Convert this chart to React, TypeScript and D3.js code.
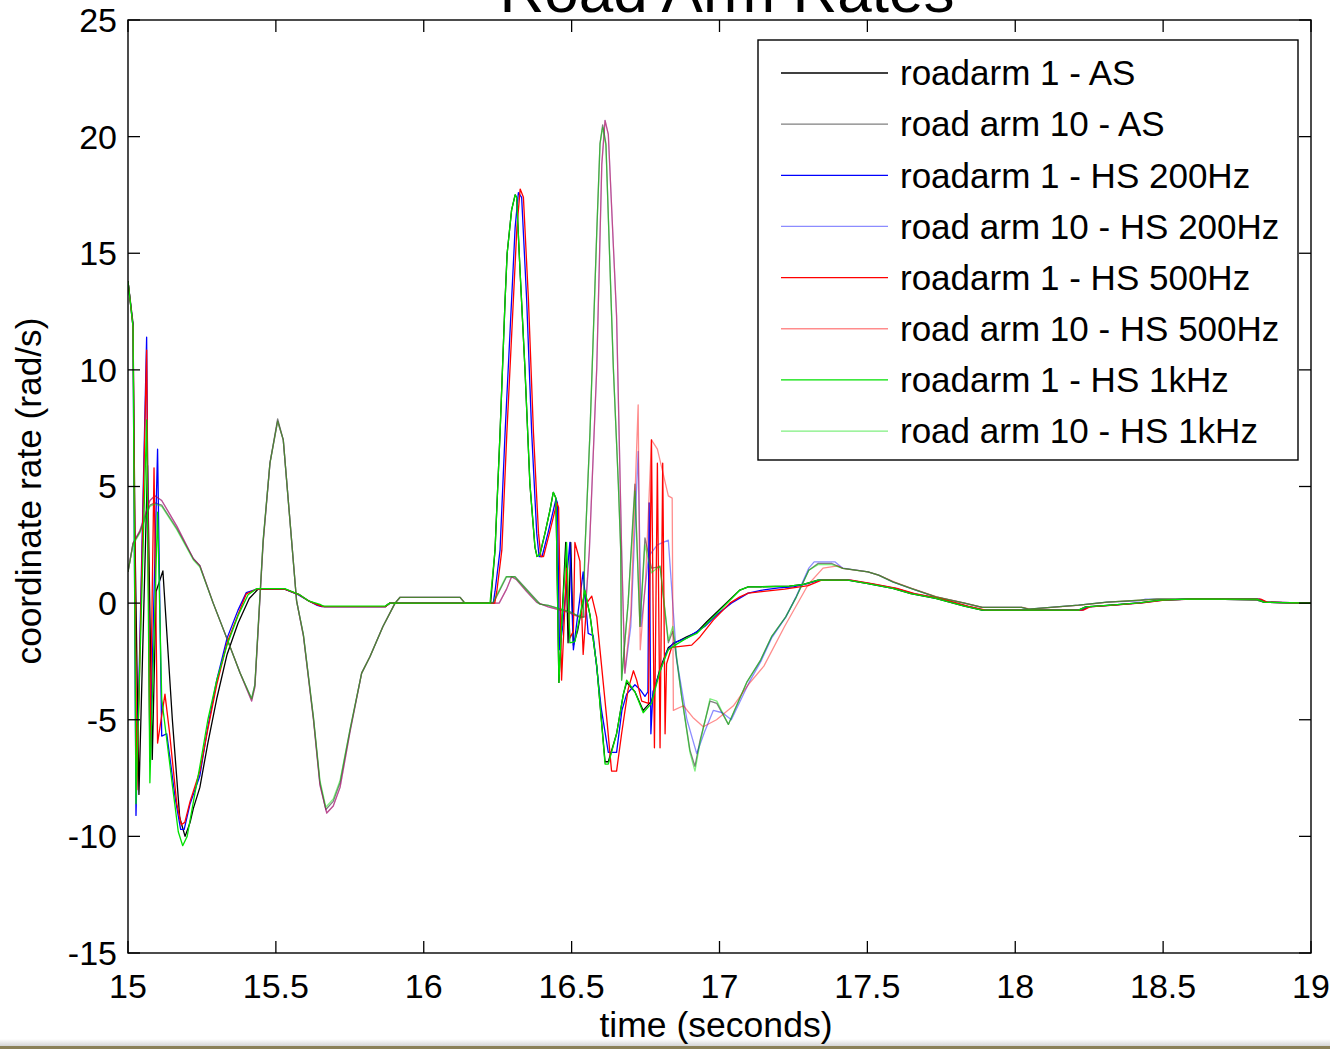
import React from 'react';
import * as d3 from 'd3';

type P = [number, number];

const xTicks = [15, 15.5, 16, 16.5, 17, 17.5, 18, 18.5, 19];
const yTicks = [-15, -10, -5, 0, 5, 10, 15, 20, 25];

const seriesNames = [
  'roadarm 1 - AS',
  'road arm 10 - AS',
  'roadarm 1 - HS 200Hz',
  'road arm 10 - HS 200Hz',
  'roadarm 1 - HS 500Hz',
  'road arm 10 - HS 500Hz',
  'roadarm 1 - HS 1kHz',
  'road arm 10 - HS 1kHz',
];

const roadarm1AS: P[] = [
  [15.000,13.8],[15.017,12.0],[15.024,2.5],[15.037,-8.2],[15.066,5.9],[15.082,-6.7],[15.095,0.5],[15.118,1.38],[15.150,-5.0],[15.175,-9.2],[15.193,-10.0],[15.210,-9.4],[15.221,-8.8],[15.243,-7.9],[15.270,-6.0],[15.300,-4.1],[15.335,-2.2],[15.372,-0.86],[15.410,0.2],[15.440,0.6],[15.530,0.6],[15.580,0.36],[15.610,0.1],[15.649,-0.1],[15.665,-0.15],[15.870,-0.15],[15.885,0.0],[16.226,0.0],[16.241,2.27],[16.258,7.3],[16.275,13.0],[16.282,15.0],[16.297,16.85],[16.309,17.5],[16.314,17.4],[16.325,14.4],[16.342,10.1],[16.359,5.1],[16.376,2.4],[16.383,2.0],[16.393,2.1],[16.410,3.0],[16.427,4.0],[16.438,4.75],[16.447,4.5],[16.457,-3.4],[16.466,-1.0],[16.480,2.6],[16.488,-1.7],[16.497,2.6],[16.506,-1.8],[16.520,-1.2],[16.545,0.5],[16.562,-0.5],[16.585,-2.7],[16.613,-6.8],[16.624,-6.8],[16.652,-5.6],[16.675,-3.9],[16.686,-3.4],[16.714,-3.8],[16.742,-4.6],[16.770,-4.2],[16.799,-2.8],[16.827,-1.9],[16.850,-1.7],[16.889,-1.45],[16.923,-1.25],[16.957,-0.8],[17.002,-0.25],[17.047,0.3],[17.069,0.56],[17.097,0.7],[17.139,0.7],[17.236,0.73],[17.284,0.8],[17.333,0.99],[17.434,0.99],[17.502,0.84],[17.586,0.63],[17.647,0.41],[17.731,0.2],[17.828,-0.13],[17.888,-0.3],[18.214,-0.3],[18.238,-0.16],[18.323,-0.09],[18.419,0.01],[18.492,0.13],[18.588,0.17],[18.817,0.17],[18.841,0.04],[19.000,0.0],
];

const roadarm10AS: P[] = [
  [15.000,1.34],[15.017,2.56],[15.040,3.05],[15.074,4.2],[15.091,4.3],[15.114,4.2],[15.165,3.2],[15.221,1.9],[15.243,1.6],[15.288,0.0],[15.334,-1.5],[15.379,-3.0],[15.418,-4.1],[15.429,-3.5],[15.457,2.7],[15.480,6.0],[15.506,7.9],[15.525,7.0],[15.570,0.1],[15.593,-1.35],[15.627,-4.9],[15.649,-7.7],[15.669,-8.85],[15.694,-8.5],[15.717,-7.7],[15.751,-5.4],[15.790,-3.0],[15.818,-2.3],[15.862,-1.0],[15.903,0.0],[15.920,0.25],[16.123,0.25],[16.139,0.0],[16.235,0.0],[16.280,1.13],[16.309,1.13],[16.393,-0.04],[16.421,-0.1],[16.494,-0.37],[16.528,-0.59],[16.539,-0.6],[16.545,2.27],[16.562,7.3],[16.585,15.9],[16.596,19.7],[16.605,20.5],[16.616,19.7],[16.641,10.1],[16.658,5.1],[16.666,2.27],[16.669,-3.3],[16.691,0.0],[16.714,5.1],[16.731,-1.0],[16.748,2.8],[16.770,1.5],[16.799,1.56],[16.827,-1.7],[16.842,-1.2],[16.872,-4.0],[16.900,-6.3],[16.917,-7.0],[16.934,-5.9],[16.968,-4.2],[16.991,-4.3],[17.030,-5.2],[17.092,-3.4],[17.139,-2.44],[17.176,-1.44],[17.224,-0.59],[17.260,0.27],[17.302,1.41],[17.333,1.7],[17.380,1.7],[17.417,1.49],[17.502,1.34],[17.538,1.2],[17.586,0.91],[17.647,0.63],[17.731,0.27],[17.828,0.0],[17.888,-0.18],[18.021,-0.18],[18.045,-0.26],[18.214,-0.09],[18.310,0.04],[18.479,0.17],[18.672,0.17],[18.817,0.13],[18.841,0.04],[19.000,0.0],
];

const roadarm1HS200: P[] = [
  [15.000,13.8],[15.017,11.85],[15.027,-9.1],[15.063,11.4],[15.074,-6.8],[15.100,6.6],[15.114,-5.7],[15.131,-5.6],[15.160,-8.4],[15.178,-9.7],[15.190,-9.7],[15.210,-8.6],[15.243,-7.4],[15.270,-5.3],[15.300,-3.3],[15.335,-1.5],[15.372,-0.3],[15.400,0.45],[15.435,0.6],[15.530,0.6],[15.575,0.36],[15.610,0.1],[15.640,-0.1],[15.655,-0.15],[15.870,-0.15],[15.885,0.0],[16.235,0.0],[16.241,0.5],[16.258,2.27],[16.275,7.3],[16.292,11.7],[16.309,16.1],[16.320,17.6],[16.331,17.4],[16.348,13.0],[16.365,7.3],[16.382,3.0],[16.390,2.0],[16.400,2.0],[16.420,3.0],[16.447,4.46],[16.452,4.3],[16.459,-2.0],[16.470,-1.0],[16.483,1.0],[16.494,2.6],[16.506,-2.0],[16.539,1.34],[16.556,-1.3],[16.573,-1.4],[16.600,-4.5],[16.624,-6.4],[16.652,-6.4],[16.670,-4.6],[16.686,-3.9],[16.714,-3.5],[16.731,-3.7],[16.748,-4.0],[16.758,-3.8],[16.762,4.3],[16.768,-5.6],[16.775,-3.8],[16.800,-2.9],[16.821,-2.1],[16.844,-1.7],[16.889,-1.5],[16.950,-1.0],[16.991,-0.5],[17.040,0.0],[17.097,0.43],[17.140,0.55],[17.200,0.65],[17.250,0.7],[17.300,0.85],[17.340,0.99],[17.440,0.99],[17.510,0.84],[17.595,0.63],[17.655,0.41],[17.740,0.2],[17.835,-0.13],[17.895,-0.3],[18.225,-0.3],[18.248,-0.16],[18.330,-0.09],[18.425,0.01],[18.500,0.13],[18.595,0.17],[18.825,0.17],[18.848,0.04],[19.000,0.0],
];

const roadarm10HS200: P[] = [
  [15.000,1.34],[15.017,2.56],[15.040,3.1],[15.074,4.4],[15.091,4.6],[15.114,4.4],[15.165,3.3],[15.221,1.9],[15.243,1.6],[15.288,0.0],[15.334,-1.5],[15.379,-3.0],[15.418,-4.2],[15.429,-3.6],[15.457,2.6],[15.480,6.0],[15.506,7.8],[15.525,7.0],[15.570,0.1],[15.593,-1.4],[15.627,-5.0],[15.649,-7.8],[15.672,-9.0],[15.694,-8.7],[15.717,-7.9],[15.751,-5.5],[15.790,-3.0],[15.818,-2.3],[15.862,-1.0],[15.903,0.0],[15.920,0.25],[16.123,0.25],[16.139,0.0],[16.255,0.0],[16.280,0.6],[16.297,1.13],[16.314,1.0],[16.348,0.5],[16.382,0.03],[16.421,-0.16],[16.483,-0.37],[16.524,-0.59],[16.545,-0.59],[16.560,2.27],[16.585,10.1],[16.602,18.8],[16.613,20.7],[16.624,20.1],[16.652,12.3],[16.669,2.3],[16.680,-3.0],[16.700,-1.0],[16.725,6.5],[16.735,-1.0],[16.760,2.0],[16.790,2.5],[16.827,2.7],[16.855,-2.4],[16.890,-5.0],[16.923,-6.45],[16.950,-5.5],[16.979,-4.6],[17.010,-4.7],[17.040,-5.0],[17.100,-3.4],[17.140,-2.5],[17.176,-1.5],[17.224,-0.6],[17.260,0.3],[17.302,1.5],[17.320,1.77],[17.390,1.77],[17.417,1.5],[17.502,1.34],[17.538,1.2],[17.586,0.91],[17.647,0.63],[17.731,0.27],[17.828,0.0],[17.888,-0.18],[18.021,-0.18],[18.045,-0.26],[18.214,-0.09],[18.310,0.04],[18.420,0.1],[18.440,0.17],[18.672,0.17],[18.817,0.13],[18.841,0.04],[19.000,0.0],
];

const roadarm1HS500: P[] = [
  [15.000,13.8],[15.017,11.85],[15.030,-8.0],[15.063,10.85],[15.074,-6.5],[15.088,5.8],[15.100,-6.0],[15.125,-3.9],[15.140,-5.5],[15.165,-8.6],[15.180,-9.5],[15.192,-9.4],[15.210,-8.5],[15.243,-7.2],[15.270,-5.4],[15.300,-3.5],[15.335,-1.7],[15.372,-0.5],[15.400,0.4],[15.435,0.6],[15.530,0.6],[15.578,0.36],[15.610,0.1],[15.645,-0.1],[15.660,-0.15],[15.870,-0.15],[15.885,0.0],[16.240,0.0],[16.247,0.5],[16.264,2.27],[16.281,7.3],[16.298,11.7],[16.315,16.1],[16.326,17.75],[16.337,17.4],[16.354,13.0],[16.371,7.3],[16.388,3.0],[16.396,2.0],[16.405,2.0],[16.425,3.0],[16.450,4.3],[16.456,4.1],[16.466,-3.3],[16.483,1.5],[16.494,-1.5],[16.506,-1.2],[16.511,2.6],[16.528,1.8],[16.539,-2.2],[16.551,0.0],[16.568,0.3],[16.585,-0.6],[16.620,-5.1],[16.635,-7.2],[16.652,-7.2],[16.669,-5.6],[16.691,-3.7],[16.709,-2.9],[16.720,-3.3],[16.737,-4.2],[16.760,-4.3],[16.770,7.0],[16.780,-6.2],[16.790,6.0],[16.799,-6.2],[16.808,6.0],[16.816,-5.6],[16.821,-2.6],[16.838,-1.9],[16.906,-1.8],[16.934,-1.45],[16.979,-0.73],[17.035,0.0],[17.069,0.27],[17.097,0.43],[17.150,0.5],[17.220,0.6],[17.300,0.75],[17.345,0.99],[17.445,0.99],[17.515,0.84],[17.600,0.63],[17.660,0.41],[17.745,0.2],[17.840,-0.13],[17.900,-0.3],[18.230,-0.3],[18.252,-0.16],[18.335,-0.09],[18.430,0.01],[18.505,0.13],[18.600,0.17],[18.830,0.17],[18.852,0.04],[19.000,0.0],
];

const roadarm10HS500: P[] = [
  [15.000,1.34],[15.017,2.56],[15.040,3.1],[15.074,4.4],[15.091,4.6],[15.114,4.4],[15.165,3.3],[15.221,1.9],[15.243,1.6],[15.288,0.0],[15.334,-1.5],[15.379,-3.0],[15.418,-4.2],[15.429,-3.6],[15.457,2.6],[15.480,6.0],[15.506,7.8],[15.525,7.0],[15.570,0.1],[15.593,-1.4],[15.627,-5.0],[15.649,-7.8],[15.672,-9.0],[15.694,-8.7],[15.717,-7.9],[15.751,-5.5],[15.790,-3.0],[15.818,-2.3],[15.862,-1.0],[15.903,0.0],[15.920,0.25],[16.123,0.25],[16.139,0.0],[16.255,0.0],[16.280,0.6],[16.297,1.13],[16.314,1.0],[16.348,0.5],[16.382,0.03],[16.421,-0.16],[16.483,-0.37],[16.524,-0.59],[16.545,-0.59],[16.560,2.27],[16.585,10.1],[16.602,18.8],[16.613,20.7],[16.624,20.1],[16.652,12.3],[16.669,2.3],[16.680,-3.0],[16.700,-0.5],[16.725,8.5],[16.732,-2.0],[16.750,1.0],[16.770,7.0],[16.790,6.6],[16.827,4.6],[16.840,4.5],[16.844,-4.6],[16.878,-4.4],[16.910,-4.9],[16.945,-5.3],[16.990,-5.0],[17.047,-4.4],[17.097,-3.5],[17.150,-2.7],[17.220,-1.0],[17.300,0.8],[17.350,1.5],[17.400,1.6],[17.417,1.49],[17.502,1.34],[17.538,1.2],[17.590,0.91],[17.650,0.63],[17.735,0.27],[17.830,0.0],[17.890,-0.18],[18.025,-0.18],[18.050,-0.26],[18.220,-0.09],[18.315,0.04],[18.485,0.17],[18.675,0.17],[18.820,0.13],[18.845,0.04],[19.000,0.0],
];

const roadarm1HS1k: P[] = [
  [15.000,13.8],[15.017,11.85],[15.027,-8.6],[15.063,7.85],[15.074,-7.7],[15.100,3.9],[15.114,-4.1],[15.150,-7.8],[15.170,-9.8],[15.185,-10.4],[15.200,-10.0],[15.220,-8.6],[15.243,-7.0],[15.270,-5.0],[15.300,-3.3],[15.335,-1.8],[15.372,-0.54],[15.406,0.36],[15.435,0.62],[15.530,0.62],[15.580,0.36],[15.610,0.1],[15.649,-0.05],[15.660,-0.13],[15.870,-0.13],[15.885,0.0],[16.224,0.0],[16.241,2.27],[16.258,7.3],[16.275,13.0],[16.282,15.0],[16.297,16.85],[16.309,17.5],[16.314,17.4],[16.325,14.4],[16.342,10.1],[16.359,5.1],[16.376,2.4],[16.383,2.0],[16.393,2.1],[16.410,3.0],[16.427,4.0],[16.438,4.75],[16.447,4.5],[16.457,-3.4],[16.466,-1.0],[16.483,2.6],[16.494,-1.7],[16.511,-1.65],[16.545,0.56],[16.562,-0.5],[16.585,-2.7],[16.613,-6.9],[16.624,-6.9],[16.652,-5.6],[16.675,-3.9],[16.686,-3.3],[16.714,-3.8],[16.742,-4.7],[16.770,-4.3],[16.799,-2.9],[16.827,-2.0],[16.850,-1.8],[16.889,-1.5],[16.923,-1.3],[16.957,-0.87],[17.002,-0.3],[17.047,0.27],[17.069,0.56],[17.097,0.7],[17.139,0.7],[17.236,0.73],[17.284,0.8],[17.333,0.99],[17.434,0.99],[17.502,0.84],[17.586,0.63],[17.647,0.41],[17.731,0.2],[17.828,-0.13],[17.888,-0.3],[18.214,-0.3],[18.238,-0.16],[18.323,-0.09],[18.419,0.01],[18.492,0.13],[18.588,0.17],[18.817,0.17],[18.841,0.04],[19.000,0.0],
];

const roadarm10HS1k: P[] = [
  [15.000,1.34],[15.017,2.5],[15.040,3.0],[15.074,4.15],[15.091,4.25],[15.114,4.15],[15.165,3.15],[15.221,1.85],[15.243,1.55],[15.288,0.0],[15.334,-1.5],[15.379,-3.0],[15.418,-4.1],[15.429,-3.5],[15.457,2.7],[15.480,6.0],[15.506,7.8],[15.525,7.0],[15.570,0.1],[15.593,-1.35],[15.627,-4.9],[15.649,-7.6],[15.669,-8.75],[15.694,-8.4],[15.717,-7.6],[15.751,-5.4],[15.790,-3.0],[15.818,-2.3],[15.862,-1.0],[15.903,0.0],[15.920,0.25],[16.123,0.25],[16.139,0.0],[16.233,0.0],[16.278,1.13],[16.307,1.13],[16.391,-0.04],[16.421,-0.1],[16.494,-0.37],[16.528,-0.59],[16.539,-0.6],[16.545,2.27],[16.562,7.3],[16.585,15.9],[16.596,19.7],[16.605,20.4],[16.616,19.6],[16.641,10.1],[16.658,5.1],[16.666,2.27],[16.669,-3.3],[16.691,0.0],[16.714,4.8],[16.731,-1.0],[16.748,2.5],[16.770,1.3],[16.799,1.6],[16.827,-1.6],[16.842,-1.0],[16.872,-4.0],[16.900,-6.4],[16.917,-7.2],[16.934,-6.0],[16.968,-4.1],[16.991,-4.2],[17.030,-5.2],[17.092,-3.4],[17.139,-2.44],[17.176,-1.44],[17.224,-0.59],[17.260,0.27],[17.302,1.41],[17.333,1.65],[17.380,1.65],[17.417,1.49],[17.502,1.34],[17.538,1.2],[17.586,0.91],[17.647,0.63],[17.731,0.27],[17.828,0.0],[17.888,-0.18],[18.021,-0.18],[18.045,-0.26],[18.214,-0.09],[18.310,0.04],[18.479,0.17],[18.672,0.17],[18.817,0.13],[18.841,0.04],[19.000,0.0],
];

const seriesData: P[][] = [
  roadarm1AS, roadarm10AS, roadarm1HS200, roadarm10HS200,
  roadarm1HS500, roadarm10HS500, roadarm1HS1k, roadarm10HS1k,
];
const seriesColors = ['#000000', '#000000', '#0000ff', '#0000ff', '#ff0000', '#ff0000', '#00e000', '#00e000'];
const seriesOpacity = [1, 0.5, 1, 0.45, 1, 0.45, 1, 0.5];

const FONT = "'Liberation Sans', Arial, Helvetica, sans-serif";

export default function App() {
  const W = 1330, H = 1049;
  const L = 128, R = 1311, T = 20, B = 953;
  const x = d3.scaleLinear().domain([15, 19]).range([L, R]);
  const y = d3.scaleLinear().domain([-15, 25]).range([B, T]);
  const line = d3.line<P>().x(d => x(d[0])).y(d => y(d[1]));
  const tickLen = 12;
  const legX = 758, legY = 40, legW = 540, legH = 420;
  const rowY0 = 73, rowStep = 51.15;

  return (
    <svg width={W} height={H} viewBox={`0 0 ${W} ${H}`}
      style={{ position: 'absolute', left: 0, top: 0, display: 'block', background: '#fff' }}
      fontFamily={FONT}>
      <defs>
        <clipPath id="plotclip"><rect x={L} y={T} width={R - L} height={B - T} /></clipPath>
        <linearGradient id="bottomfade" x1="0" y1="0" x2="0" y2="1">
          <stop offset="0" stopColor="#ffffff" />
          <stop offset="1" stopColor="#d4d4d4" />
        </linearGradient>
      </defs>
      <rect x={0} y={0} width={W} height={H} fill="#fff" />

      {/* slide footer decoration */}
      <rect x={0} y={1039} width={W} height={7} fill="url(#bottomfade)" />
      <rect x={0} y={1046} width={W} height={3} fill="#8a8058" />

      {/* title (cut off at the top edge, as in the original slide) */}
      <text x={727} y={12} fontSize={62} textAnchor="middle" fill="#000">Road Arm Rates</text>

      {/* series */}
      <g clipPath="url(#plotclip)" fill="none" strokeLinejoin="round">
        {seriesData.map((s, i) => (
          <path key={i} d={line(s) || ''} stroke={seriesColors[i]} strokeOpacity={seriesOpacity[i]} strokeWidth={1.3} />
        ))}
      </g>

      {/* axes box */}
      <rect x={L} y={T} width={R - L} height={B - T} fill="none" stroke="#000" strokeWidth={1.4} />
      {xTicks.map(t => (
        <g key={'xt' + t}>
          <line x1={x(t)} x2={x(t)} y1={B} y2={B - tickLen} stroke="#000" strokeWidth={1.3} />
          <line x1={x(t)} x2={x(t)} y1={T} y2={T + tickLen} stroke="#000" strokeWidth={1.3} />
          <text x={x(t)} y={998} fontSize={34} textAnchor="middle" fill="#000">{String(t)}</text>
        </g>
      ))}
      {yTicks.map(t => (
        <g key={'yt' + t}>
          <line x1={L} x2={L + tickLen} y1={y(t)} y2={y(t)} stroke="#000" strokeWidth={1.3} />
          <line x1={R} x2={R - tickLen} y1={y(t)} y2={y(t)} stroke="#000" strokeWidth={1.3} />
          <text x={117} y={y(t)} dy="0.35em" fontSize={34} textAnchor="end" fill="#000">{String(t)}</text>
        </g>
      ))}

      {/* axis labels */}
      <text x={716} y={1037} fontSize={35} textAnchor="middle" fill="#000" textLength={233} lengthAdjust="spacingAndGlyphs">time (seconds)</text>
      <text transform="translate(41,491) rotate(-90)" fontSize={35} textAnchor="middle" fill="#000" textLength={347} lengthAdjust="spacingAndGlyphs">coordinate rate (rad/s)</text>

      {/* legend */}
      <rect x={legX} y={legY} width={legW} height={legH} fill="#fff" stroke="#000" strokeWidth={1.4} />
      {seriesNames.map((n, i) => {
        const ry = rowY0 + i * rowStep;
        return (
          <g key={'lg' + i}>
            <line x1={781} x2={888} y1={ry} y2={ry} stroke={seriesColors[i]} strokeOpacity={seriesOpacity[i]} strokeWidth={1.3} />
            <text x={900} y={ry} dy="0.35em" fontSize={35} fill="#000">{n}</text>
          </g>
        );
      })}
    </svg>
  );
}
